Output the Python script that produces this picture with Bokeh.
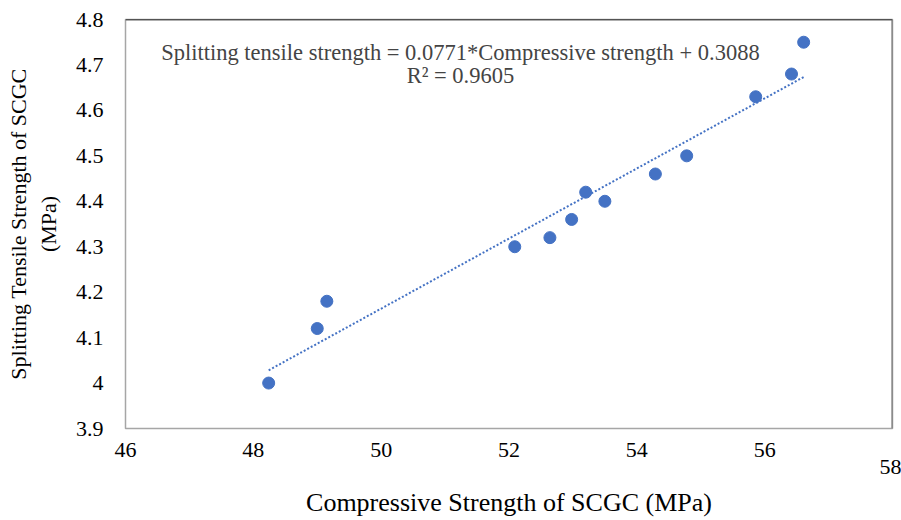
from bokeh.plotting import figure
from bokeh.models import Label, FixedTicker, Range1d, Span
from bokeh.embed import file_html
from bokeh.resources import INLINE
import numpy as np

compressive = [48.24, 49.0, 49.15, 52.09, 52.64, 52.98, 53.2, 53.5, 54.29, 54.78, 55.86, 56.42, 56.61]
tensile = [4.00, 4.12, 4.18, 4.30, 4.32, 4.36, 4.42, 4.40, 4.46, 4.50, 4.63, 4.68, 4.75]
slope = 0.0771
intercept = 0.3088
r2 = 0.9605
x_ticks = [46, 48, 50, 52, 54, 56, 58]
y_ticks = [3.9, 4.0, 4.1, 4.2, 4.3, 4.4, 4.5, 4.6, 4.7, 4.8]

FONT = "Liberation Serif"

p = figure(width=901, height=520, output_backend="svg", toolbar_location=None,
           x_range=Range1d(46, 58), y_range=Range1d(3.9, 4.8),
           min_border_left=125, min_border_right=9, min_border_top=19, min_border_bottom=92)
p.grid.visible = False
p.outline_line_color = "#a6a6a6"
p.outline_line_width = 1.5
p.background_fill_color = "white"
p.border_fill_color = "white"

for ax in (p.xaxis[0], p.yaxis[0]):
    ax.axis_line_color = None
    ax.major_tick_line_color = None
    ax.minor_tick_line_color = None
    ax.major_label_text_font = FONT
    ax.major_label_text_font_size = "22px"
    ax.major_label_text_color = "#000000"
    ax.axis_label_text_font = FONT
    ax.axis_label_text_font_style = "normal"
    ax.axis_label_text_color = "#000000"

p.xaxis.ticker = FixedTicker(ticks=x_ticks)
p.yaxis.ticker = FixedTicker(ticks=y_ticks)
p.yaxis.major_label_overrides = {4.0: "4"}
p.xaxis.major_label_overrides = {58: "\n58"}
p.xaxis.major_label_text_line_height = 0.7
p.xaxis.major_label_standoff = 2
p.yaxis.major_label_standoff = 16
p.xaxis.axis_label = "Compressive Strength of SCGC (MPa)"
p.xaxis.axis_label_text_font_size = "26px"
p.xaxis.axis_label_standoff = 6
p.yaxis.axis_label = "Splitting Tensile Strength of SCGC\n(MPa)"
p.yaxis.axis_label_text_font_size = "22px"
p.yaxis.axis_label_text_align = "center"
p.yaxis.axis_label_standoff = 12

# frame edges: top black, right dark grey
p.add_layout(Span(location=4.8, dimension="width", line_color="#000000", line_width=1.5))
p.add_layout(Span(location=58, dimension="height", line_color="#707070", line_width=2))

xs = np.array([min(compressive), max(compressive)])
p.line(xs, slope * xs + intercept, line_color="#4472C4", line_width=2, line_dash="2 2")
p.scatter(compressive, tensile, size=12, fill_color="#4472C4", line_color="#4472C4")

p.add_layout(Label(x=51.24, y=4.727, text=f"Splitting tensile strength = {slope}*Compressive strength + {intercept}",
                   text_font=FONT, text_font_size="22.5px", text_align="center", text_baseline="middle"))
p.add_layout(Label(x=51.24, y=4.677, text=f"R² = {r2}",
                   text_font=FONT, text_font_size="22.5px", text_align="center", text_baseline="middle"))

open("out.html", "w").write(file_html(p, INLINE))
